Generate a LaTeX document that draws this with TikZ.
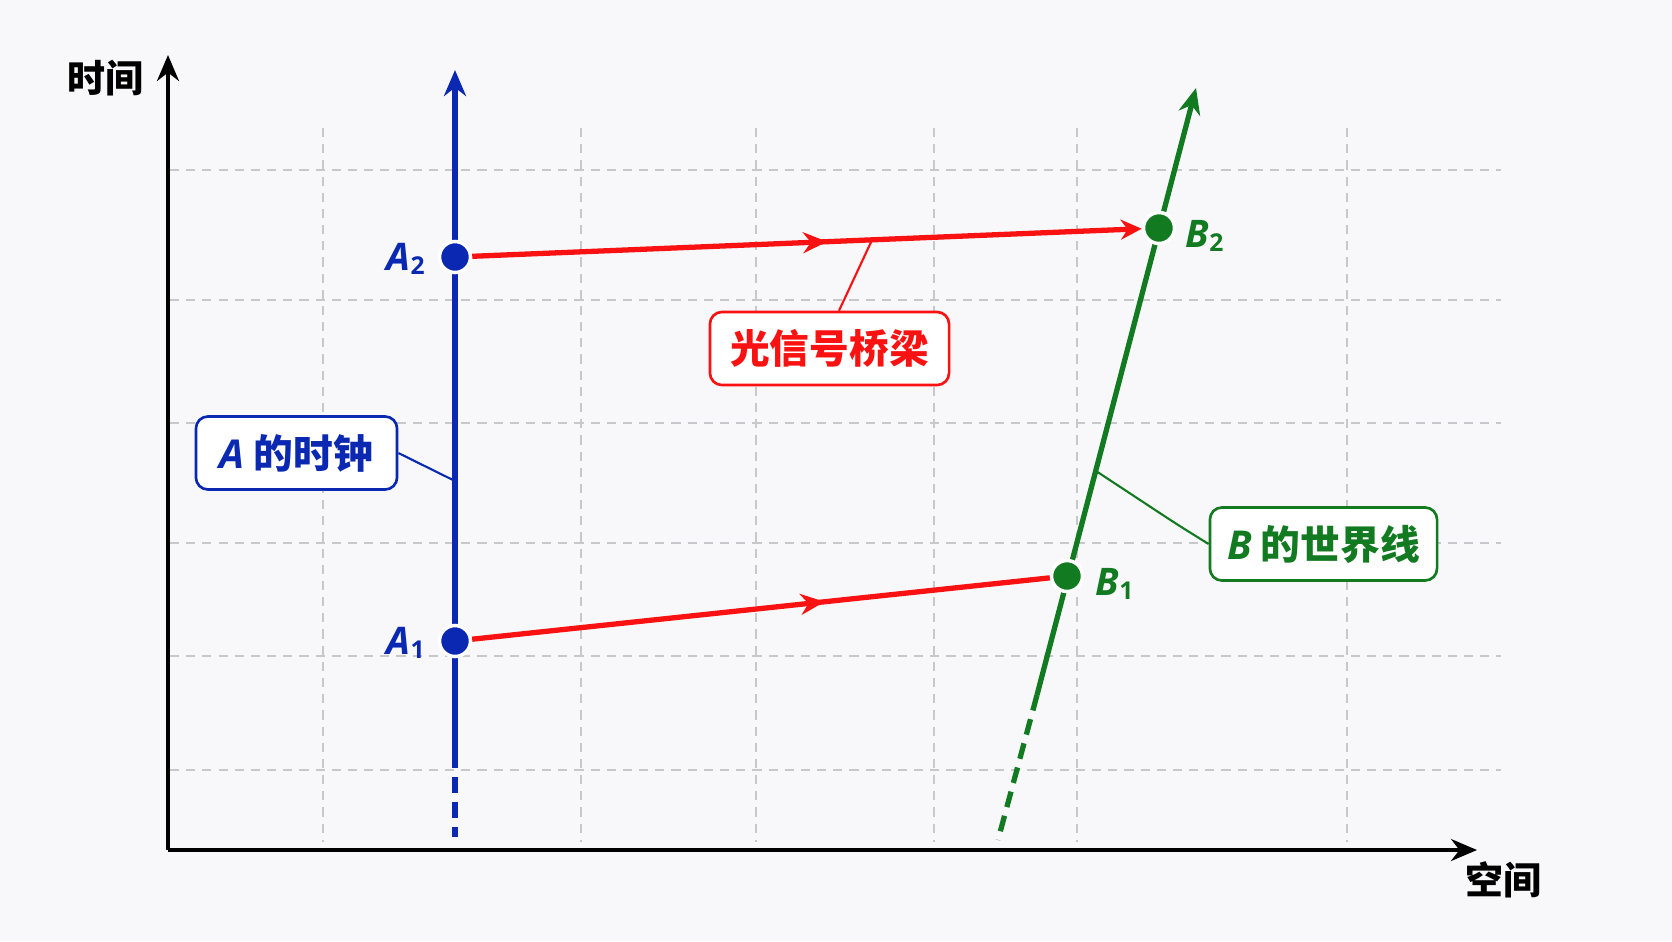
\documentclass[tikz,border=0pt]{standalone}
\usepackage{fontspec}
\setmainfont{Noto Sans CJK SC}
\newfontfamily\latf{Open Sans}
\usepackage{tikz}
\usepackage{xcolor}
\usetikzlibrary{arrows.meta,decorations.markings}

\definecolor{bgcol}{RGB}{248,248,250}
\definecolor{clk}{RGB}{10,40,178}
\definecolor{wl}{RGB}{18,122,32}
\definecolor{sig}{RGB}{250,18,18}
\definecolor{gridc}{RGB}{200,200,204}

\newcommand{\evname}[2]{{\latf\bfseries\itshape #1}{\latf\fontsize{7}{8}\selectfont\raisebox{-1.4pt}{#2}}}

\begin{document}
\begin{tikzpicture}[x=0.01cm,y=-0.01cm,
    every node/.style={font=\fontsize{10.8}{12}\selectfont\bfseries},
    gridline/.style={gridc,line width=0.5pt,dash pattern=on 2.6pt off 2pt},
    axis/.style={black,line width=0.95pt,-{Stealth[length=0.26cm,width=0.22cm]}},
    world/.style={line width=1.5pt},
    brokenend/.style={line width=1.5pt,dash pattern=on 0.16cm off 0.09cm},
    event/.style={circle,inner sep=0pt,minimum size=0.31cm,draw=white,line width=1pt},
    callout/.style={draw=#1,text=#1,line width=0.75pt,rounded corners=0.12cm,fill=white,
        minimum height=0.73cm,font=\fontsize{11.3}{13}\selectfont\bfseries},
    leader/.style={line width=0.6pt},
    midarrow/.style={postaction={decorate},decoration={markings,
        mark=at position #1 with {\arrow{Stealth[length=0.24cm,width=0.21cm]}}}}]

    \fill[bgcol] (0,0) rectangle (1672,941);
    \useasboundingbox (0,0) rectangle (1672,941);

    % grid
    \foreach \gx in {323,581,756,934,1077,1347}
        \draw[gridline] (\gx,128) -- (\gx,842);
    \foreach \gy in {170,300,423,543,656,770}
        \draw[gridline] (170,\gy) -- (1501,\gy);

    % axes
    \coordinate (O) at (168,850);
    \coordinate (tend) at (168,55);
    \coordinate (send) at (1477,850);
    \draw[axis] (O) -- (tend);
    \draw[axis] (O) -- (send);
    \node (tlab) at (105,78) {时间};
    \node (slab) at (1503,880) {空间};

    % world line of A
    \coordinate (Abot) at (455,837);
    \coordinate (Acut) at (455,752);
    \coordinate (Atop) at (455,70);
    \draw[clk,world,-{Stealth[length=0.26cm,width=0.22cm]}] (Acut) -- (Atop);
    \draw[clk,brokenend] (Acut) -- (Abot);

    % world line of B
    \coordinate (Bbot) at (998,840);
    \coordinate (Bcut) at (1037,695);
    \coordinate (Btop) at (1196,88);
    \draw[wl,world,-{Stealth[length=0.26cm,width=0.22cm]}] (Bcut) -- (Btop);
    \draw[wl,brokenend] (Bcut) -- (Bbot);

    % callouts
    \node[callout=clk,minimum width=2.01cm] (clockbox) at (296.5,453) {{\latf\itshape A}\ 的时钟};
    \node[callout=sig,minimum width=2.39cm] (sigbox) at (829.5,348.5) {光信号桥梁};
    \node[callout=wl,minimum width=2.27cm] (wlbox) at (1323.5,544) {{\latf\itshape B}\ 的世界线};

    \coordinate (clkpt) at (455,481);
    \coordinate (sigpt) at (872,240);
    \coordinate (wlbend) at (1178,525);
    \coordinate (wlpt) at (1096,471);
    \draw[clk,leader] (clockbox.east) -- (clkpt);
    \draw[sig,leader] ([xshift=0.095cm]sigbox.north) -- (sigpt);
    \draw[wl,leader,rounded corners=0.15cm] (wlbox.west) -- (wlbend) -- (wlpt);

    % events
    \node[event,fill=clk] (A1) at (455,641) {};
    \node[event,fill=clk] (A2) at (455,257) {};
    \node[event,fill=wl] (B1) at (1067,576) {};
    \node[event,fill=wl] (B2) at (1159,228) {};

    % light signals
    \draw[sig,world,midarrow=0.61] (A1) -- (B1);
    \draw[sig,world,midarrow=0.53,-{Stealth[length=0.21cm,width=0.2cm]}] (A2) -- (B2);

    % event labels
    \node[clk,anchor=base west,inner sep=0pt] (A1lab) at (386,654) {\evname{A}{1}};
    \node[clk,anchor=base west,inner sep=0pt] (A2lab) at (386,270) {\evname{A}{2}};
    \node[wl,anchor=base west,inner sep=0pt] (B1lab) at (1095,595) {\evname{B}{1}};
    \node[wl,anchor=base west,inner sep=0pt] (B2lab) at (1185,247) {\evname{B}{2}};
\end{tikzpicture}
\end{document}
